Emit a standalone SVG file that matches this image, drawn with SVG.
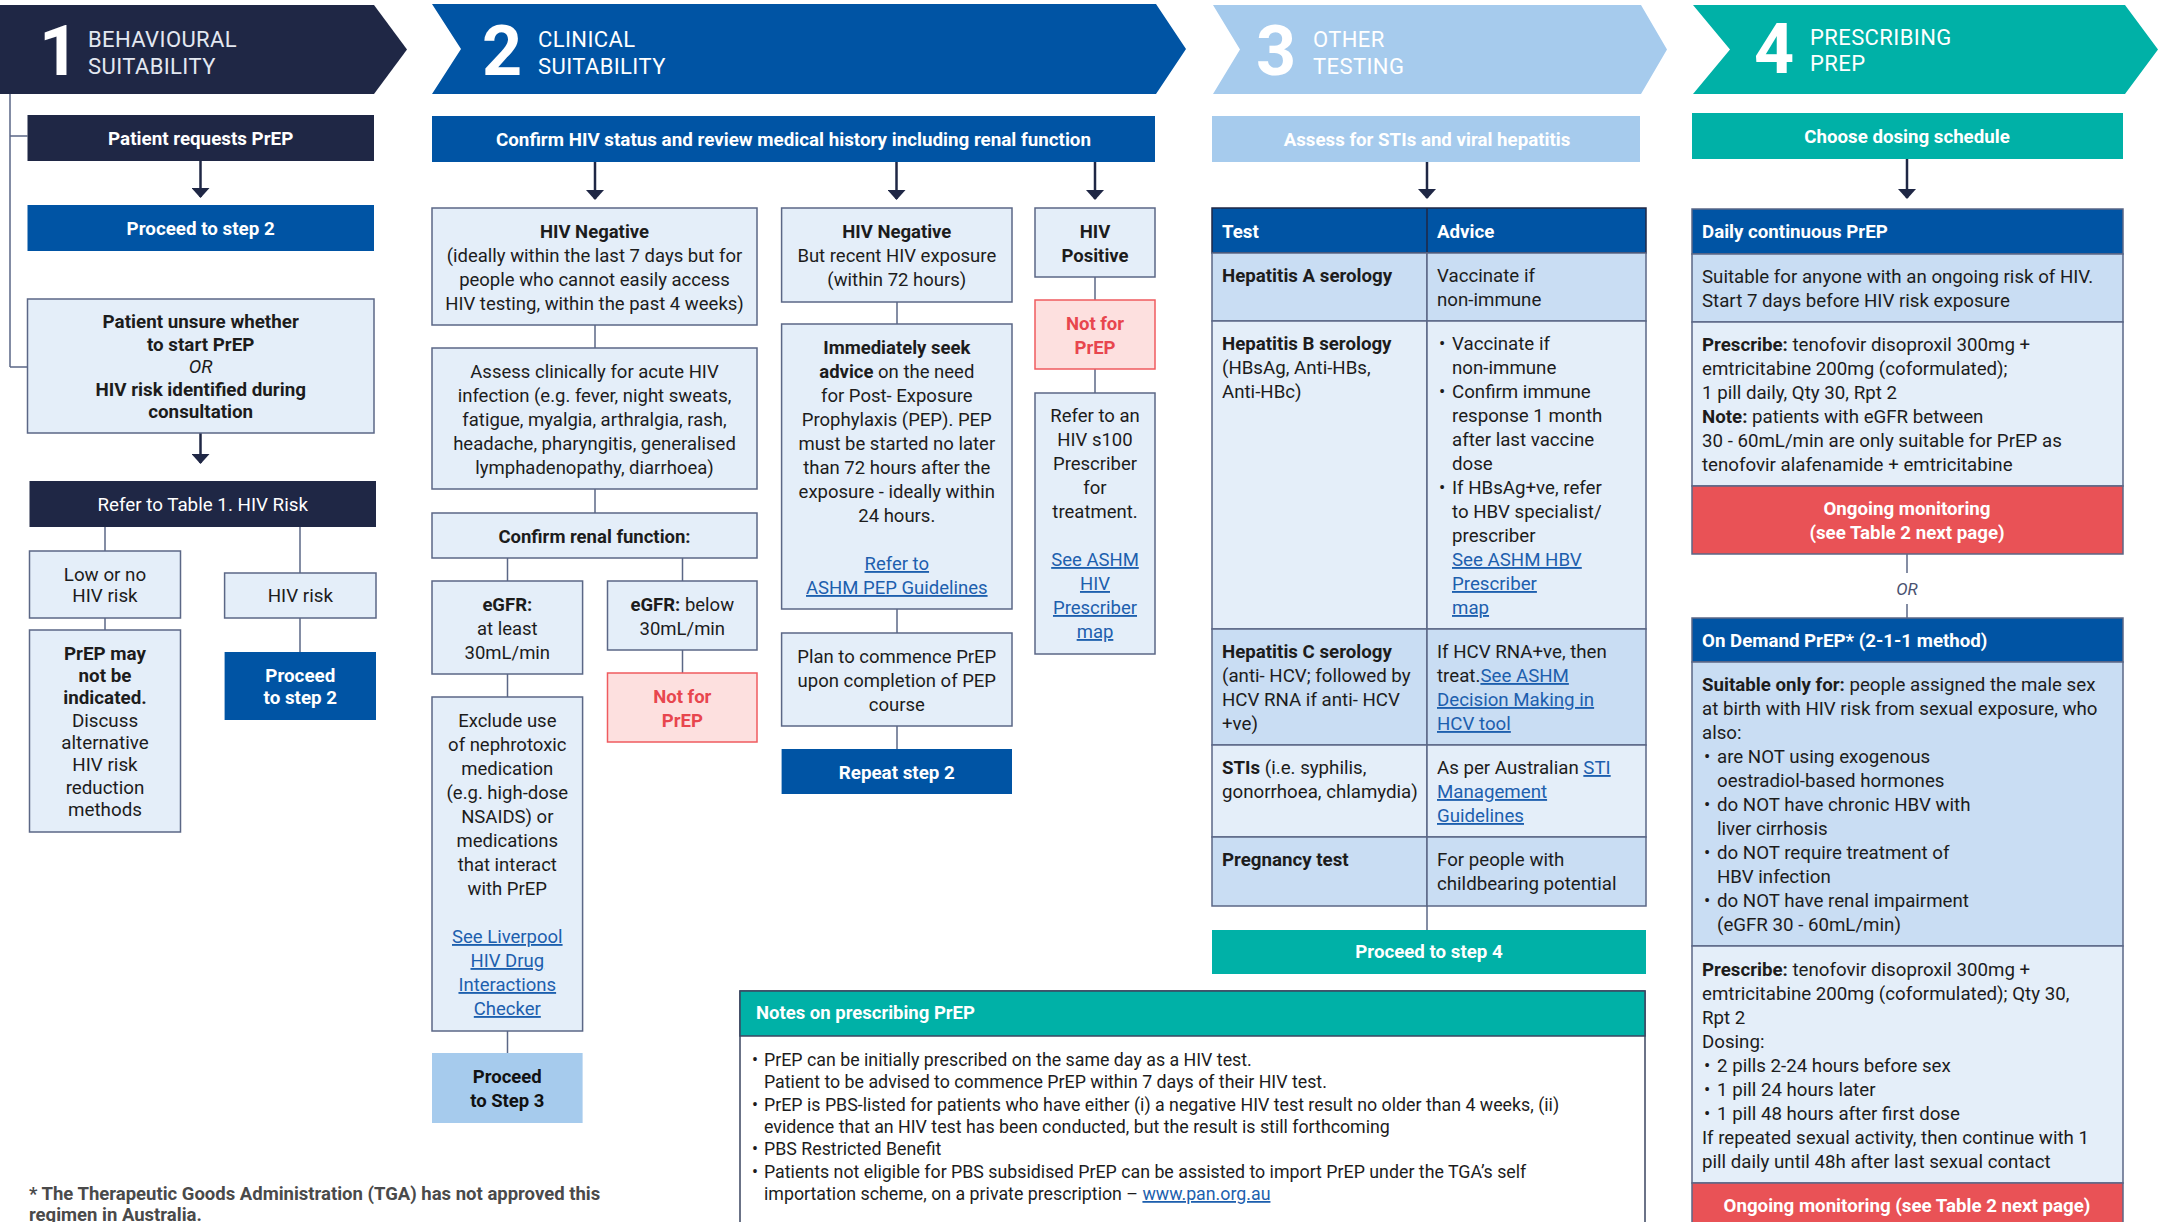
<svg xmlns="http://www.w3.org/2000/svg" width="2158" height="1222" viewBox="0 0 2158 1222">
<defs>
<style>
text{font-family:Roboto,"Liberation Sans",Arial,sans-serif;font-size:18.5px;fill:#1c1c1c}
.c{text-anchor:middle}
.b{font-weight:700}
.i{font-style:italic}
.w{fill:#fff}
.dk{fill:#111}
.lk{fill:#1d5fae;text-decoration:underline}
.hd{font-size:22px;fill:#fff;letter-spacing:0.4px}
.num{font-size:70px;font-weight:700;fill:#fff;text-anchor:middle}
.box{fill:#e4eef9;stroke:#5b6786;stroke-width:1.5}
.navy{fill:#1f2745}
.blue{fill:#0054a4}
.lblue{fill:#a6cbed}
.teal{fill:#00b1a7}
.red{fill:#e95256;stroke:#5b6786;stroke-width:1.5}
.nf{fill:#fde0df;stroke:#ef5b5f;stroke-width:1.5}
.nft{fill:#e8464e;font-weight:700}
.r1{fill:#c9ddf3;stroke:#5b6786;stroke-width:1.5}
.r2{fill:#e4eef9;stroke:#5b6786;stroke-width:1.5}
.ln{stroke:#5b6786;stroke-width:1.5;fill:none}
.ar{stroke:#1f2745;stroke-width:2.5;fill:none;marker-end:url(#ah)}
.or{fill:#4a5270;font-style:italic;font-size:17px;text-anchor:middle}
.col1 text{font-size:18.8px}
.col34 text{font-size:18.7px}
#n-notes .nb{font-size:17.8px}
#footnote text{font-size:18.5px;fill:#4a4a4a;font-weight:700}
</style>
<marker id="ah" viewBox="0 0 10 10" refX="9" refY="5" markerUnits="userSpaceOnUse" markerWidth="10" markerHeight="18" orient="auto" preserveAspectRatio="none">
<path d="M0,0 L10,5 L0,10 z" fill="#1f2745"/>
</marker>
</defs>
<rect width="2158" height="1222" fill="#fff"/>

<!-- Headers -->
<g id="header1">
<path class="navy" d="M0,5 H374 L407,49.5 L374,94 H0 Z"/>
<text class="num" x="59" y="75">1</text>
<text class="hd" x="88" y="47" style="fill:#e3e8f1">BEHAVIOURAL</text>
<text class="hd" x="88" y="74" style="fill:#e3e8f1">SUITABILITY</text>
</g>
<g id="header2">
<path class="blue" d="M432,4 H1156 L1186,49 L1156,94 H432 L461,49 Z"/>
<text class="num" x="502" y="75">2</text>
<text class="hd" x="538" y="47">CLINICAL</text>
<text class="hd" x="538" y="74">SUITABILITY</text>
</g>
<g id="header3">
<path class="lblue" d="M1213,5 H1641 L1667,49.5 L1641,94 H1213 L1240,49.5 Z"/>
<text class="num" x="1276" y="75">3</text>
<text class="hd" x="1313" y="47">OTHER</text>
<text class="hd" x="1313" y="74">TESTING</text>
</g>
<g id="header4">
<path class="teal" d="M1693,5 H2125 L2158,49.5 L2125,94 H1693 L1730,49.5 Z"/>
<text class="num" x="1774" y="73">4</text>
<text class="hd" x="1810" y="45">PRESCRIBING</text>
<text class="hd" x="1810" y="71">PREP</text>
</g>

<!-- Connectors -->
<g id="connectors">
<path class="ln" d="M10,94 V367 M10,136 H27.5 M10,367 H27.5"/>
<line class="ar" x1="200.5" y1="161" x2="200.5" y2="197"/>
<line class="ar" x1="200.5" y1="433" x2="200.5" y2="463"/>
<line class="ln" x1="105" y1="527" x2="105" y2="551"/>
<line class="ln" x1="300" y1="527" x2="300" y2="573"/>
<line class="ln" x1="105" y1="618" x2="105" y2="630"/>
<line class="ln" x1="300" y1="618" x2="300" y2="652"/>
<line class="ar" x1="595" y1="162" x2="595" y2="199"/>
<line class="ar" x1="896.5" y1="162" x2="896.5" y2="199"/>
<line class="ar" x1="1095" y1="162" x2="1095" y2="199"/>
<line class="ln" x1="595" y1="325" x2="595" y2="348"/>
<line class="ln" x1="595" y1="489" x2="595" y2="513"/>
<line class="ln" x1="507.5" y1="558" x2="507.5" y2="581"/>
<line class="ln" x1="682.5" y1="558" x2="682.5" y2="581"/>
<line class="ln" x1="682.5" y1="650" x2="682.5" y2="673"/>
<line class="ln" x1="507.5" y1="674" x2="507.5" y2="697"/>
<line class="ln" x1="507.5" y1="1031" x2="507.5" y2="1053"/>
<line class="ln" x1="897" y1="302" x2="897" y2="324"/>
<line class="ln" x1="897" y1="609" x2="897" y2="633"/>
<line class="ln" x1="897" y1="726" x2="897" y2="749"/>
<line class="ln" x1="1095" y1="277" x2="1095" y2="300"/>
<line class="ln" x1="1095" y1="369" x2="1095" y2="393"/>
<line class="ar" x1="1427" y1="162" x2="1427" y2="198"/>
<line class="ln" x1="1427" y1="906" x2="1427" y2="930"/>
<line class="ar" x1="1907" y1="159" x2="1907" y2="198"/>
<line class="ln" x1="1907" y1="554" x2="1907" y2="573"/>
<line class="ln" x1="1907" y1="604" x2="1907" y2="618"/>
</g>

<!-- Column 1 -->
<g class="col1">
<g id="n-requests">
<rect class="navy" x="27.5" y="115" width="346.5" height="46"/>
<text class="c b w" x="200.7" y="144.5">Patient requests PrEP</text>
</g>
<g id="n-proceed2a">
<rect class="blue" x="27.5" y="205" width="346.5" height="46"/>
<text class="c b w" x="200.7" y="235">Proceed to step 2</text>
</g>
<g id="n-unsure">
<rect class="box" x="27.5" y="299" width="346.5" height="134"/>
<text class="c b" x="200.7" y="328">Patient unsure whether</text>
<text class="c b" x="200.7" y="350.5">to start PrEP</text>
<text class="c i" x="200.7" y="373">OR</text>
<text class="c b" x="200.7" y="395.5">HIV risk identified during</text>
<text class="c b" x="200.7" y="418">consultation</text>
</g>
<g id="n-refer-table">
<rect class="navy" x="29.5" y="481" width="346.5" height="46"/>
<text class="c w" x="202.7" y="511">Refer to Table 1. HIV Risk</text>
</g>
<g id="n-low-risk">
<rect class="box" x="29.5" y="551" width="151" height="67"/>
<text class="c" x="105" y="580.5">Low or no</text>
<text class="c" x="105" y="602">HIV risk</text>
</g>
<g id="n-not-indicated">
<rect class="box" x="29.5" y="630" width="151" height="202"/>
<text class="c b" x="105" y="660">PrEP may</text>
<text class="c b" x="105" y="682">not be</text>
<text class="c b" x="105" y="704">indicated.</text>
<text class="c" x="105" y="727">Discuss</text>
<text class="c" x="105" y="749">alternative</text>
<text class="c" x="105" y="771">HIV risk</text>
<text class="c" x="105" y="794">reduction</text>
<text class="c" x="105" y="816">methods</text>
</g>
<g id="n-hiv-risk">
<rect class="box" x="224.6" y="573" width="151.4" height="45"/>
<text class="c" x="300.3" y="602">HIV risk</text>
</g>
<g id="n-proceed2b">
<rect class="blue" x="224.6" y="652" width="151.4" height="68"/>
<text class="c b w" x="300.3" y="682">Proceed</text>
<text class="c b w" x="300.3" y="704">to step 2</text>
</g>
</g>

<!-- Column 2 -->
<g id="n-confirm-hiv">
<rect class="blue" x="432" y="116" width="723" height="46"/>
<text class="c b w" x="793.5" y="146" style="font-size:18.8px">Confirm HIV status and review medical history including renal function</text>
</g>
<g id="n-hivneg1">
<rect class="box" x="432" y="208" width="325" height="117"/>
<text class="c b" x="594.5" y="238">HIV Negative</text>
<text class="c" x="594.5" y="262">(ideally within the last 7 days but for</text>
<text class="c" x="594.5" y="286">people who cannot easily access</text>
<text class="c" x="594.5" y="310">HIV testing, within the past 4 weeks)</text>
</g>
<g id="n-assess">
<rect class="box" x="432" y="348" width="325" height="141"/>
<text class="c" x="594.5" y="378">Assess clinically for acute HIV</text>
<text class="c" x="594.5" y="402">infection (e.g. fever, night sweats,</text>
<text class="c" x="594.5" y="426">fatigue, myalgia, arthralgia, rash,</text>
<text class="c" x="594.5" y="450">headache, pharyngitis, generalised</text>
<text class="c" x="594.5" y="474">lymphadenopathy, diarrhoea)</text>
</g>
<g id="n-renal">
<rect class="box" x="432" y="513" width="325" height="45"/>
<text class="c b" x="594.5" y="543">Confirm renal function:</text>
</g>
<g id="n-egfr-high">
<rect class="box" x="432" y="581" width="150.6" height="93"/>
<text class="c b" x="507.3" y="611">eGFR:</text>
<text class="c" x="507.3" y="635">at least</text>
<text class="c" x="507.3" y="659">30mL/min</text>
</g>
<g id="n-egfr-low">
<rect class="box" x="607.5" y="581" width="149.5" height="69"/>
<text class="c" x="682.3" y="611"><tspan class="b">eGFR:</tspan> below</text>
<text class="c" x="682.3" y="635">30mL/min</text>
</g>
<g id="n-notfor1">
<rect class="nf" x="607.5" y="673" width="149.5" height="69"/>
<text class="c nft" x="682.3" y="703">Not for</text>
<text class="c nft" x="682.3" y="727">PrEP</text>
</g>
<g id="n-exclude">
<rect class="box" x="432" y="697" width="150.6" height="334"/>
<text class="c" x="507.3" y="727">Exclude use</text>
<text class="c" x="507.3" y="751">of nephrotoxic</text>
<text class="c" x="507.3" y="775">medication</text>
<text class="c" x="507.3" y="799">(e.g. high-dose</text>
<text class="c" x="507.3" y="823">NSAIDS) or</text>
<text class="c" x="507.3" y="847">medications</text>
<text class="c" x="507.3" y="871">that interact</text>
<text class="c" x="507.3" y="895">with PrEP</text>
<text class="c lk" x="507.3" y="943">See Liverpool</text>
<text class="c lk" x="507.3" y="967">HIV Drug</text>
<text class="c lk" x="507.3" y="991">Interactions</text>
<text class="c lk" x="507.3" y="1015">Checker</text>
</g>
<g id="n-proceed3">
<rect class="lblue" x="432" y="1053" width="150.6" height="70"/>
<text class="c b dk" x="507.3" y="1083">Proceed</text>
<text class="c b dk" x="507.3" y="1107">to Step 3</text>
</g>
<g id="n-hivneg2">
<rect class="box" x="781.6" y="208" width="230.4" height="94"/>
<text class="c b" x="896.8" y="238">HIV Negative</text>
<text class="c" x="896.8" y="262">But recent HIV exposure</text>
<text class="c" x="896.8" y="286">(within 72 hours)</text>
</g>
<g id="n-pep">
<rect class="box" x="781.6" y="324" width="230.4" height="285"/>
<text class="c b" x="896.8" y="354">Immediately seek</text>
<text class="c" x="896.8" y="378"><tspan class="b">advice</tspan> on the need</text>
<text class="c" x="896.8" y="402">for Post- Exposure</text>
<text class="c" x="896.8" y="426">Prophylaxis (PEP). PEP</text>
<text class="c" x="896.8" y="450">must be started no later</text>
<text class="c" x="896.8" y="474">than 72 hours after the</text>
<text class="c" x="896.8" y="498">exposure - ideally within</text>
<text class="c" x="896.8" y="522">24 hours.</text>
<text class="c lk" x="896.8" y="570">Refer to</text>
<text class="c lk" x="896.8" y="594">ASHM PEP Guidelines</text>
</g>
<g id="n-plan">
<rect class="box" x="781.6" y="633" width="230.4" height="93"/>
<text class="c" x="896.8" y="663">Plan to commence PrEP</text>
<text class="c" x="896.8" y="687">upon completion of PEP</text>
<text class="c" x="896.8" y="711">course</text>
</g>
<g id="n-repeat2">
<rect class="blue" x="781.6" y="749" width="230.4" height="45"/>
<text class="c b w" x="896.8" y="779" style="font-size:18.8px">Repeat step 2</text>
</g>
<g id="n-hivpos">
<rect class="box" x="1035" y="208" width="120" height="69"/>
<text class="c b" x="1095" y="238">HIV</text>
<text class="c b" x="1095" y="262">Positive</text>
</g>
<g id="n-notfor2">
<rect class="nf" x="1035" y="300" width="120" height="69"/>
<text class="c nft" x="1095" y="330">Not for</text>
<text class="c nft" x="1095" y="354">PrEP</text>
</g>
<g id="n-s100">
<rect class="box" x="1035" y="393" width="120" height="261"/>
<text class="c" x="1095" y="422">Refer to an</text>
<text class="c" x="1095" y="446">HIV s100</text>
<text class="c" x="1095" y="470">Prescriber</text>
<text class="c" x="1095" y="494">for</text>
<text class="c" x="1095" y="518">treatment.</text>
<text class="c lk" x="1095" y="566">See ASHM </text>
<text class="c lk" x="1095" y="590">HIV </text>
<text class="c lk" x="1095" y="614">Prescriber</text>
<text class="c lk" x="1095" y="638">map</text>
</g>

<!-- Column 3 -->
<g class="col34">
<g id="n-assess-sti">
<rect class="lblue" x="1212" y="116" width="428" height="46"/>
<text class="c b w" x="1427" y="146">Assess for STIs and viral hepatitis</text>
</g>
<g id="n-test-table">
<rect class="blue" x="1212" y="208" width="434" height="45" stroke="#1f2745" stroke-width="1.5"/>
<line x1="1427" y1="208" x2="1427" y2="253" stroke="#1f2745" stroke-width="1.5"/>
<text class="b w" x="1222" y="238">Test</text>
<text class="b w" x="1437" y="238">Advice</text>
<rect class="r1" x="1212" y="253" width="215" height="68"/>
<rect class="r1" x="1427" y="253" width="219" height="68"/>
<rect class="r2" x="1212" y="321" width="215" height="308"/>
<rect class="r2" x="1427" y="321" width="219" height="308"/>
<rect class="r1" x="1212" y="629" width="215" height="116"/>
<rect class="r1" x="1427" y="629" width="219" height="116"/>
<rect class="r2" x="1212" y="745" width="215" height="92"/>
<rect class="r2" x="1427" y="745" width="219" height="92"/>
<rect class="r1" x="1212" y="837" width="215" height="69"/>
<rect class="r1" x="1427" y="837" width="219" height="69"/>
<text class="b" x="1222" y="282">Hepatitis A serology</text>
<text x="1437" y="282">Vaccinate if</text>
<text x="1437" y="306">non-immune</text>
<text class="b" x="1222" y="350">Hepatitis B serology</text>
<text x="1222" y="374">(HBsAg, Anti-HBs,</text>
<text x="1222" y="398">Anti-HBc)</text>
<text x="1439" y="350">•</text><text x="1452" y="350">Vaccinate if</text>
<text x="1452" y="374">non-immune</text>
<text x="1439" y="398">•</text><text x="1452" y="398">Confirm immune</text>
<text x="1452" y="422">response 1 month</text>
<text x="1452" y="446">after last vaccine</text>
<text x="1452" y="470">dose</text>
<text x="1439" y="494">•</text><text x="1452" y="494">If HBsAg+ve, refer</text>
<text x="1452" y="518">to HBV specialist/</text>
<text x="1452" y="542">prescriber</text>
<text class="lk" x="1452" y="566">See ASHM HBV </text>
<text class="lk" x="1452" y="590">Prescriber</text>
<text class="lk" x="1452" y="614">map</text>
<text class="b" x="1222" y="658">Hepatitis C serology</text>
<text x="1222" y="682">(anti- HCV; followed by</text>
<text x="1222" y="706">HCV RNA if anti- HCV</text>
<text x="1222" y="730">+ve)</text>
<text x="1437" y="658">If HCV RNA+ve, then</text>
<text x="1437" y="682">treat.<tspan class="lk">See ASHM </tspan></text>
<text class="lk" x="1437" y="706">Decision Making in </text>
<text class="lk" x="1437" y="730">HCV tool</text>
<text x="1222" y="774"><tspan class="b">STIs</tspan> (i.e. syphilis,</text>
<text x="1222" y="798">gonorrhoea, chlamydia)</text>
<text x="1437" y="774">As per Australian <tspan class="lk">STI</tspan></text>
<text class="lk" x="1437" y="798">Management </text>
<text class="lk" x="1437" y="822">Guidelines</text>
<text class="b" x="1222" y="866">Pregnancy test</text>
<text x="1437" y="866">For people with</text>
<text x="1437" y="890">childbearing potential</text>
</g>
<g id="n-proceed4">
<rect class="teal" x="1212" y="930" width="434" height="44"/>
<text class="c b w" x="1429" y="958">Proceed to step 4</text>
</g>
</g>

<!-- Notes -->
<g id="n-notes">
<rect x="740" y="991" width="905" height="245" fill="#fff" stroke="#3b4560" stroke-width="1.5"/>
<rect class="teal" x="740" y="991" width="905" height="45" stroke="#3b4560" stroke-width="1.5"/>
<text class="b w" x="756" y="1019">Notes on prescribing PrEP</text>
<text class="nb" x="752" y="1066">•</text><text class="nb" x="764" y="1066">PrEP can be initially prescribed on the same day as a HIV test.</text>
<text class="nb" x="764" y="1088">Patient to be advised to commence PrEP within 7 days of their HIV test.</text>
<text class="nb" x="752" y="1111">•</text><text class="nb" x="764" y="1111">PrEP is PBS-listed for patients who have either (i) a negative HIV test result no older than 4 weeks, (ii)</text>
<text class="nb" x="764" y="1133">evidence that an HIV test has been conducted, but the result is still forthcoming</text>
<text class="nb" x="752" y="1155">•</text><text class="nb" x="764" y="1155">PBS Restricted Benefit</text>
<text class="nb" x="752" y="1178">•</text><text class="nb" x="764" y="1178">Patients not eligible for PBS subsidised PrEP can be assisted to import PrEP under the TGA’s self</text>
<text class="nb" x="764" y="1200">importation scheme, on a private prescription – <tspan class="lk">www.pan.org.au</tspan></text>
</g>

<!-- Column 4 -->
<g class="col34">
<g id="n-choose">
<rect class="teal" x="1692" y="113" width="431" height="46"/>
<text class="c b w" x="1907" y="143">Choose dosing schedule</text>
</g>
<g id="n-daily">
<rect class="blue" x="1692" y="209" width="431" height="45" stroke="#5b6786" stroke-width="1.5"/>
<text class="b w" x="1702" y="238">Daily continuous PrEP</text>
<rect class="r1" x="1692" y="254" width="431" height="68"/>
<text x="1702" y="283">Suitable for anyone with an ongoing risk of HIV.</text>
<text x="1702" y="307">Start 7 days before HIV risk exposure</text>
<rect class="r2" x="1692" y="322" width="431" height="164"/>
<text x="1702" y="351"><tspan class="b">Prescribe:</tspan> tenofovir disoproxil 300mg +</text>
<text x="1702" y="375">emtricitabine 200mg (coformulated);</text>
<text x="1702" y="399">1 pill daily, Qty 30, Rpt 2</text>
<text x="1702" y="423"><tspan class="b">Note:</tspan> patients with eGFR between</text>
<text x="1702" y="447">30 - 60mL/min are only suitable for PrEP as</text>
<text x="1702" y="471">tenofovir alafenamide + emtricitabine</text>
</g>
<g id="n-monitor1">
<rect class="red" x="1692" y="486" width="431" height="68"/>
<text class="c b w" x="1907" y="515">Ongoing monitoring</text>
<text class="c b w" x="1907" y="539">(see Table 2 next page)</text>
</g>
<g id="n-ondemand">
<rect class="blue" x="1692" y="618" width="431" height="44" stroke="#5b6786" stroke-width="1.5"/>
<text class="b w" x="1702" y="647">On Demand PrEP* (2-1-1 method)</text>
<rect class="r1" x="1692" y="662" width="431" height="284"/>
<text x="1702" y="691"><tspan class="b">Suitable only for:</tspan> people assigned the male sex</text>
<text x="1702" y="715">at birth with HIV risk from sexual exposure, who</text>
<text x="1702" y="739">also:</text>
<text x="1704" y="763">•</text><text x="1717" y="763">are NOT using exogenous</text>
<text x="1717" y="787">oestradiol-based hormones</text>
<text x="1704" y="811">•</text><text x="1717" y="811">do NOT have chronic HBV with</text>
<text x="1717" y="835">liver cirrhosis</text>
<text x="1704" y="859">•</text><text x="1717" y="859">do NOT require treatment of</text>
<text x="1717" y="883">HBV infection</text>
<text x="1704" y="907">•</text><text x="1717" y="907">do NOT have renal impairment</text>
<text x="1717" y="931">(eGFR 30 - 60mL/min)</text>
<rect class="r2" x="1692" y="946" width="431" height="237"/>
<text x="1702" y="976"><tspan class="b">Prescribe:</tspan> tenofovir disoproxil 300mg +</text>
<text x="1702" y="1000">emtricitabine 200mg (coformulated); Qty 30,</text>
<text x="1702" y="1024">Rpt 2</text>
<text x="1702" y="1048">Dosing:</text>
<text x="1704" y="1072">•</text><text x="1717" y="1072">2 pills 2-24 hours before sex</text>
<text x="1704" y="1096">•</text><text x="1717" y="1096">1 pill 24 hours later</text>
<text x="1704" y="1120">•</text><text x="1717" y="1120">1 pill 48 hours after first dose</text>
<text x="1702" y="1144">If repeated sexual activity, then continue with 1</text>
<text x="1702" y="1168">pill daily until 48h after last sexual contact</text>
</g>
<g id="n-monitor2">
<rect class="red" x="1692" y="1183" width="431" height="50"/>
<text class="c b w" x="1907" y="1212">Ongoing monitoring (see Table 2 next page)</text>
</g>
</g>
<text class="or" x="1907" y="595">OR</text>

<g id="footnote">
<text x="29" y="1200">* The Therapeutic Goods Administration (TGA) has not approved this</text>
<text x="29" y="1221">regimen in Australia.</text>
</g>
</svg>
